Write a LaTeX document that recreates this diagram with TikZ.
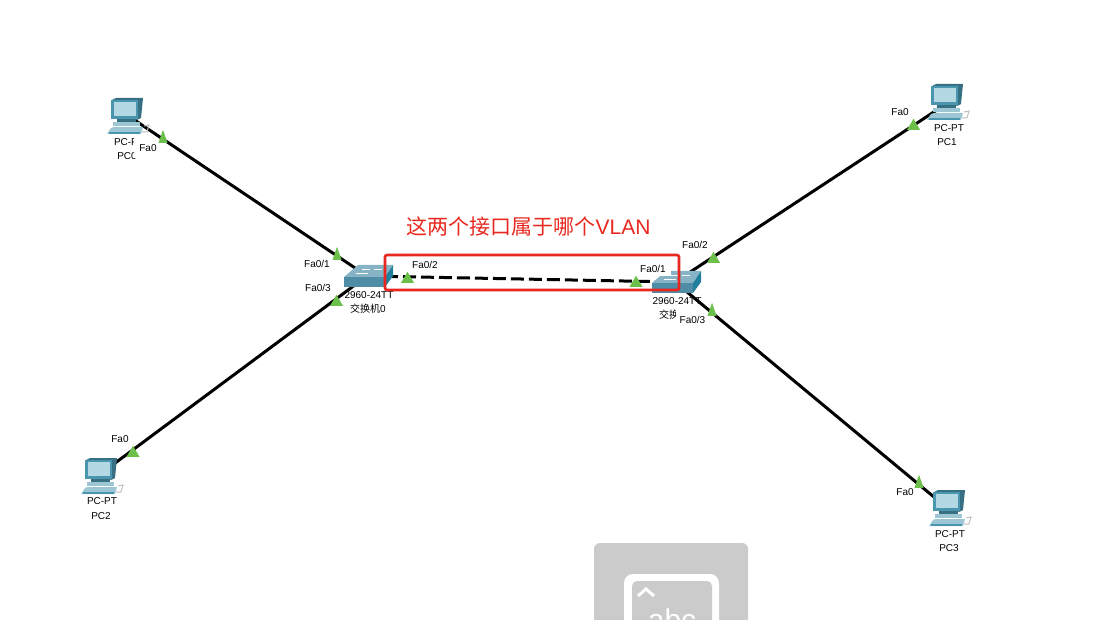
\documentclass[tikz,border=0pt]{standalone}
\usepackage{fontspec}
\setmainfont{Liberation Sans}
\newfontfamily\cjk{Noto Sans CJK SC}
\usetikzlibrary{shapes.geometric}
\definecolor{pcframe}{HTML}{4A96AE}
\definecolor{pcscreen}{HTML}{B4D9E5}
\definecolor{pcbase}{HTML}{9CC6D3}
\definecolor{swfront}{HTML}{4F8CA6}
\definecolor{swtop}{HTML}{86B4C6}
\definecolor{swside}{HTML}{1F7F9C}
\definecolor{portgreen}{HTML}{6CBF4B}
\definecolor{markred}{HTML}{E8281E}
\definecolor{keygray}{HTML}{CBCBCB}
\tikzset{
    x=1pt,y=-1pt,
    link/.style={line width=3pt,black},
    crosslink/.style={link,dash pattern=on 13pt off 5pt},
    port/.style={fill=white,inner sep=1pt,font=\fontsize{10}{12}\selectfont},
    devlabel/.style={inner sep=0pt,font=\fontsize{10}{12}\selectfont},
    led/.style={isosceles triangle,isosceles triangle apex angle=70,isosceles triangle stretches,shape border rotate=90,anchor=lower side,fill=portgreen,inner sep=0pt,minimum height=11pt,minimum width=13pt},
    ledthin/.style={led,minimum height=13pt,minimum width=9pt},
    pcicon/.pic={
        \fill[pcframe!75!black] (1,2) -- (5,0) -- (32,0) -- (30,20) -- (26,22) -- cycle;
        \fill[pcframe] (0,2) rectangle (27,21);
        \fill[pcscreen] (3,4) rectangle (25,18);
        \fill[pcframe!75!black] (6,21) rectangle (25,24);
        \fill[pcbase] (2,24) rectangle (29,28);
        \fill[pcbase] (0,30) -- (3,29) -- (32,29) -- (30,36) -- (-4,36) -- cycle;
        \fill[pcframe] (-2,34) rectangle (29,36);
        \draw[gray!50,line width=1pt] (33,28) -- (38,27) -- (36,34) -- (31,34);
    },
    swicon/.pic={
        \fill[swtop] (0,0) -- (14,-12) -- (49,-12) -- (41,0) -- cycle;
        \fill[swside] (41,0) -- (49,-12) -- (49,-1) -- (41,10) -- cycle;
        \fill[swfront] (0,0) rectangle (41,10);
        \draw[white,line width=0.5pt] (18,-8) -- (26,-8) (30,-8) -- (38,-8) (12,-4) -- (24,-4);
    }
}
\begin{document}
\begin{tikzpicture}
    \useasboundingbox (0,0) rectangle (1105,620);
    \clip (0,0) rectangle (1105,620);
    % devices
    \coordinate (pc0) at (127,115);
    \coordinate (pc1) at (946,104);
    \coordinate (pc2) at (99,475);
    \coordinate (pc3) at (946,507);
    \coordinate (sw0) at (367,276);
    \coordinate (sw1) at (675,282);

    \node[devlabel] (pc0type) at (129,142) {PC-PT};
    \node[devlabel] (pc0name) at (127,156) {PC0};
    \node[devlabel] (pc1type) at (949,128) {PC-PT};
    \node[devlabel] (pc1name) at (947,142) {PC1};
    \node[devlabel] (pc2type) at (102,501) {PC-PT};
    \node[devlabel] (pc2name) at (101,516) {PC2};
    \node[devlabel] (pc3type) at (950,534) {PC-PT};
    \node[devlabel] (pc3name) at (949,548) {PC3};
    \node[devlabel] (sw0type) at (369,295) {2960-24TT};
    \node[devlabel] (sw0name) at (368,309) {{\cjk 交换机}0};
    \node[devlabel] (sw1type) at (677,301) {2960-24TT};
    \node[devlabel] (sw1name) at (677,315) {{\cjk 交换机}1};

    % port labels
    \node[port,inner xsep=5pt,inner ysep=6pt] (p0fa) at (148,148) {Fa0};
    \node[port] (p1fa) at (900,112) {Fa0};
    \node[port] (p2fa) at (120,439) {Fa0};
    \node[port] (p3fa) at (905,492) {Fa0};
    \node[port] (s0fa1) at (317,264) {Fa0/1};
    \node[port] (s0fa3) at (318,288) {Fa0/3};
    \node[port] (s0fa2) at (425,265) {Fa0/2};
    \node[port] (s1fa2) at (695,245) {Fa0/2};
    \node[port,inner xsep=4pt,inner ysep=7pt] (s1fa3) at (692.5,320) {Fa0/3};

    % links
    \draw[link] (pc0) -- (sw0);
    \draw[link] (pc2) -- (sw0);
    \draw[link] (pc1) -- (sw1);
    \draw[link] (pc3) -- (sw1);
    \draw[crosslink] (sw0) -- (sw1);

    \pic at (111,98) {pcicon};
    \pic at (931,84) {pcicon};
    \pic at (85,458) {pcicon};
    \pic at (933,490) {pcicon};
    \pic at (344,277) {swicon};
    \pic at (652,283) {swicon};
    \node[port,inner xsep=5pt,inner ysep=3pt] (s1fa1) at (653,269) {Fa0/1};

    % port lights
    \node[ledthin] (l0) at (163,143) {};
    \node[ledthin] (l1) at (337,260) {};
    \node[led] (l2) at (336.5,306) {};
    \node[led] (l3) at (133,457) {};
    \node[led] (l4) at (407.5,283) {};
    \node[led] (l5) at (636,287) {};
    \node[led] (l6) at (713.5,263) {};
    \node[led] (l7) at (913.5,130) {};
    \node[ledthin] (l8) at (712,316) {};
    \node[ledthin] (l9) at (919,488) {};

    % mark
    \draw[markred,line width=2.6pt,rounded corners=2pt] (385,255) rectangle (679,290);
    \node[text=markred,inner sep=0pt,font=\fontsize{21}{24}\selectfont] (question) at (528.5,226) {{\cjk 这两个接口属于哪个}VLAN};

    % keyboard badge
    \fill[keygray,rounded corners=6pt] (594,543) rectangle (748,640);
    \fill[white,rounded corners=9pt] (624,574) rectangle (719,640);
    \fill[keygray,rounded corners=5pt] (632,581) rectangle (712,640);
    \draw[white,line width=3pt] (638,596) -- (646,589) -- (654,596);
    \node[text=white,inner sep=0pt,font=\fontsize{30}{34}\selectfont] (abc) at (672,620) {abc};
\end{tikzpicture}
\end{document}
